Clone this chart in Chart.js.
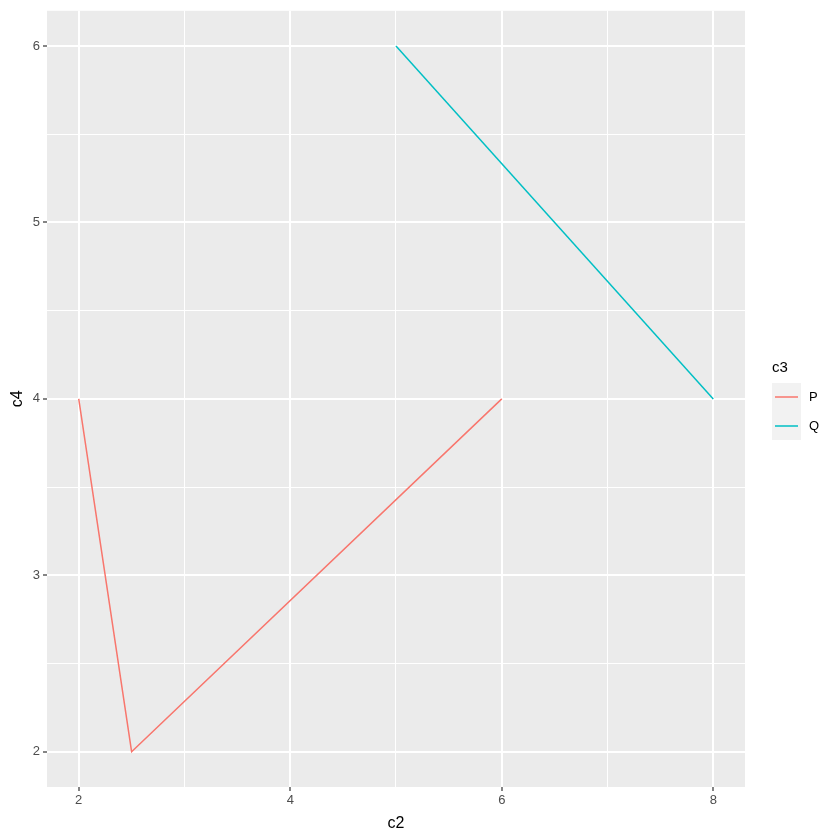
<!DOCTYPE html>
<html>
<head>
<meta charset="utf-8">
<script src="https://cdn.jsdelivr.net/npm/chart.js@4"></script>
<style>
  html, body { margin: 0; padding: 0; background: #fff; }
  #wrap { width: 840px; height: 840px; }
</style>
</head>
<body>
<div id="wrap"><canvas id="lineChart" width="840" height="840"></canvas></div>
<script>
// dados
const seriesNames = ['P', 'Q'];
const seriesColors = ['#F8766D', '#00BFC4'];
const pX = [2, 2.5, 6];
const pY = [4, 2, 4];
const qX = [5, 8];
const qY = [6, 4];
const xTicks = [2, 3, 4, 5, 6, 7, 8];
const yTicks = [2, 2.5, 3, 3.5, 4, 4.5, 5, 5.5, 6];
const xMajor = [2, 4, 6, 8];
const yMajor = [2, 3, 4, 5, 6];

const FONT = "'Liberation Sans', Arial, sans-serif";

function pontos(xs, ys) {
    return xs.map((x, i) => ({ x: x, y: ys[i] }));
}

// fundo cinza do painel + legenda estilo ggplot
const painelPlugin = {
    id: 'painel',
    beforeDraw(chart) {
        const { ctx, chartArea: a } = chart;
        ctx.save();
        ctx.fillStyle = '#EBEBEB';
        ctx.fillRect(a.left, a.top, a.right - a.left, a.bottom - a.top);
        ctx.restore();
    },
    afterDraw(chart) {
        const ctx = chart.ctx;
        ctx.save();
        ctx.fillStyle = '#000';
        ctx.font = '15px ' + FONT;
        ctx.textBaseline = 'middle';
        ctx.fillText('c3', 772, 368);
        ctx.fillStyle = '#F2F2F2';
        ctx.fillRect(772, 383, 29, 57);
        seriesNames.forEach((nome, i) => {
            const y = 397 + i * 29;
            ctx.strokeStyle = seriesColors[i];
            ctx.lineWidth = 1.5;
            ctx.beginPath();
            ctx.moveTo(775, y);
            ctx.lineTo(798, y);
            ctx.stroke();
            ctx.fillStyle = '#000';
            ctx.font = '13px ' + FONT;
            ctx.fillText(nome, 809, y);
        });
        ctx.restore();
    }
};

new Chart(document.getElementById('lineChart'), {
    type: 'scatter',
    data: {
        datasets: [{
            label: seriesNames[0],
            data: pontos(pX, pY),
            borderColor: seriesColors[0],
            showLine: true,
            borderWidth: 1.5,
            pointRadius: 0
        }, {
            label: seriesNames[1],
            data: pontos(qX, qY),
            borderColor: seriesColors[1],
            showLine: true,
            borderWidth: 1.5,
            pointRadius: 0
        }]
    },
    options: {
        responsive: false,
        animation: false,
        layout: { padding: { top: 9, right: 95, left: 0, bottom: 0 } },
        plugins: {
            legend: { display: false },
            tooltip: { enabled: false }
        },
        scales: {
            x: {
                type: 'linear',
                min: 1.7,
                max: 8.3,
                afterBuildTicks: (s) => { s.ticks = xTicks.map(v => ({ value: v })); },
                afterFit: (s) => { s.height = 53; },
                border: { display: false },
                grid: {
                    color: '#FFFFFF',
                    lineWidth: (c) => xMajor.includes(c.tick && c.tick.value) ? 2 : 1,
                    tickColor: (c) => xMajor.includes(c.tick && c.tick.value) ? '#333333' : 'rgba(0,0,0,0)',
                    tickLength: 4,
                    tickWidth: 1.2
                },
                ticks: {
                    color: '#4D4D4D',
                    font: { size: 13, family: FONT },
                    padding: 2,
                    maxRotation: 0,
                    autoSkip: false,
                    callback: (v) => xMajor.includes(v) ? String(v) : ''
                },
                title: {
                    display: true,
                    text: 'c2',
                    color: '#000',
                    font: { size: 16, family: FONT },
                    padding: { top: 4, bottom: 7 }
                }
            },
            y: {
                type: 'linear',
                min: 1.8,
                max: 6.2,
                afterBuildTicks: (s) => { s.ticks = yTicks.map(v => ({ value: v })); },
                afterFit: (s) => { s.width = 47; },
                border: { display: false },
                grid: {
                    color: '#FFFFFF',
                    lineWidth: (c) => yMajor.includes(c.tick && c.tick.value) ? 2 : 1,
                    tickColor: (c) => yMajor.includes(c.tick && c.tick.value) ? '#333333' : 'rgba(0,0,0,0)',
                    tickLength: 4,
                    tickWidth: 1.2
                },
                ticks: {
                    color: '#4D4D4D',
                    font: { size: 13, family: FONT },
                    padding: 3,
                    autoSkip: false,
                    callback: (v) => yMajor.includes(v) ? String(v) : ''
                },
                title: {
                    display: true,
                    text: 'c4',
                    color: '#000',
                    font: { size: 16, family: FONT },
                    padding: { top: 8, bottom: 0 }
                }
            }
        }
    },
    plugins: [painelPlugin]
});
</script>
</body>
</html>
